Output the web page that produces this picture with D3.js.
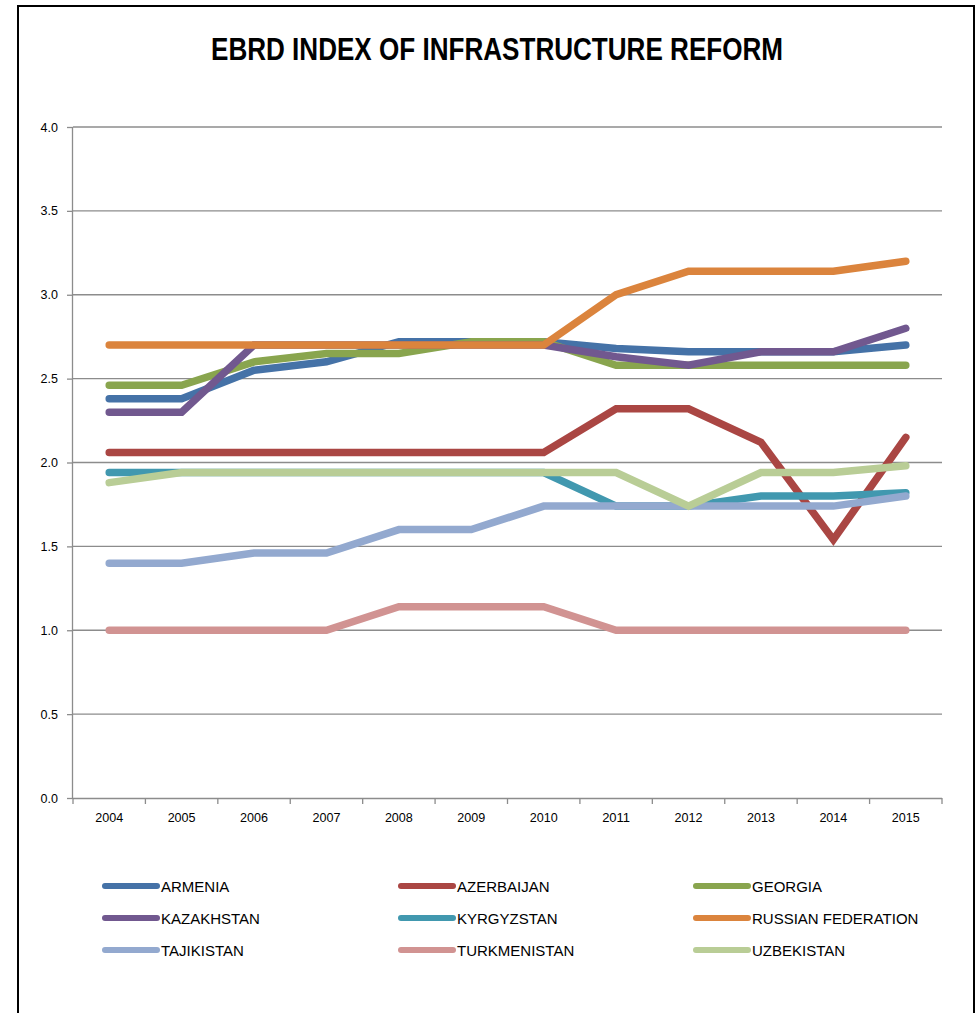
<!DOCTYPE html>
<html><head><meta charset="utf-8">
<script src="https://cdn.jsdelivr.net/npm/d3@7"></script>
<style>body{margin:0;background:#fff}</style>
</head><body>
<svg id="c" width="979" height="1013"></svg>
<script>
const years = ["2004","2005","2006","2007","2008","2009","2010","2011","2012","2013","2014","2015"];
const yTicks = [0,0.5,1,1.5,2,2.5,3,3.5,4];
const seriesNames = ["ARMENIA","AZERBAIJAN","GEORGIA","KAZAKHSTAN","KYRGYZSTAN","RUSSIAN FEDERATION","TAJIKISTAN","TURKMENISTAN","UZBEKISTAN"];
const colors = ["#4572A7","#AA4643","#89A54E","#71588F","#4198AF","#DB843D","#93A9CF","#D19392","#B9CD96"];
const armenia      = [2.38,2.38,2.55,2.60,2.72,2.72,2.72,2.68,2.66,2.66,2.66,2.70];
const azerbaijan   = [2.06,2.06,2.06,2.06,2.06,2.06,2.06,2.32,2.32,2.12,1.54,2.15];
const georgia      = [2.46,2.46,2.60,2.65,2.65,2.72,2.72,2.58,2.58,2.58,2.58,2.58];
const kazakhstan   = [2.30,2.30,2.70,2.70,2.70,2.70,2.70,2.63,2.58,2.66,2.66,2.80];
const kyrgyzstan   = [1.94,1.94,1.94,1.94,1.94,1.94,1.94,1.74,1.74,1.80,1.80,1.82];
const russia       = [2.70,2.70,2.70,2.70,2.70,2.70,2.70,3.00,3.14,3.14,3.14,3.20];
const tajikistan   = [1.40,1.40,1.46,1.46,1.60,1.60,1.74,1.74,1.74,1.74,1.74,1.80];
const turkmenistan = [1.00,1.00,1.00,1.00,1.14,1.14,1.14,1.00,1.00,1.00,1.00,1.00];
const uzbekistan   = [1.88,1.94,1.94,1.94,1.94,1.94,1.94,1.94,1.74,1.94,1.94,1.98];
const seriesValues = [armenia,azerbaijan,georgia,kazakhstan,kyrgyzstan,russia,tajikistan,turkmenistan,uzbekistan];

const svg = d3.select("#c");
svg.append("rect").attr("x",18).attr("y",6).attr("width",956).attr("height",1020)
  .attr("fill","#fff").attr("stroke","#000").attr("stroke-width",2);

svg.append("text").attr("x",497).attr("y",60).attr("text-anchor","middle")
  .attr("font-family","Liberation Sans, Arial, sans-serif").attr("font-weight","bold")
  .attr("font-size",31).attr("textLength",572).attr("lengthAdjust","spacingAndGlyphs")
  .text("EBRD INDEX OF INFRASTRUCTURE REFORM");

const L=73, R=942, T=127, B=798;
const x = d3.scaleBand().domain(years).range([L,R]);
const y = d3.scaleLinear().domain([0,4]).range([B,T]);

svg.append("g").selectAll("line").data(yTicks.filter(d=>d>0)).join("line")
  .attr("x1",L).attr("x2",R).attr("y1",d=>y(d)).attr("y2",d=>y(d))
  .attr("stroke","#8c8c8c").attr("stroke-width",1.3);

const ya = svg.append("g").attr("transform",`translate(${L},0)`)
  .call(d3.axisLeft(y).tickValues(yTicks).tickFormat(d3.format(".1f")).tickSize(6).tickPadding(9));
ya.select(".domain").attr("stroke","#8c8c8c").attr("stroke-width",1.3).attr("d",`M-0.5,${T}V${B}`);
ya.selectAll(".tick line").attr("stroke","#8c8c8c").attr("stroke-width",1.3);
ya.selectAll("text").attr("font-family","Liberation Sans, Arial, sans-serif").attr("font-size",12.5).attr("fill","#000");

const xa = svg.append("g").attr("transform",`translate(0,${B})`)
  .call(d3.axisBottom(x).tickSize(0).tickPadding(15));
xa.select(".domain").attr("stroke","#8c8c8c").attr("stroke-width",1.3).attr("d",`M${L},0.5H${R}`);
xa.selectAll("text").attr("font-family","Liberation Sans, Arial, sans-serif").attr("font-size",13).attr("fill","#000")
  .attr("textLength",28).attr("lengthAdjust","spacingAndGlyphs");
const bounds = years.map(d=>x(d)).concat([R]);
svg.append("g").selectAll("line").data(bounds).join("line")
  .attr("x1",d=>d).attr("x2",d=>d).attr("y1",B).attr("y2",B+6)
  .attr("stroke","#8c8c8c").attr("stroke-width",1.3);

const line = d3.line().x((d,i)=>x(years[i])+x.bandwidth()/2).y(d=>y(d));
svg.append("g").selectAll("path").data(seriesValues).join("path")
  .attr("d",d=>line(d)).attr("fill","none").attr("stroke",(d,i)=>colors[i])
  .attr("stroke-width",7.5).attr("stroke-linecap","round").attr("stroke-linejoin","miter");

const colX=[103,399,694], rowY=[886,918,950];
const lg = svg.append("g").selectAll("g").data(seriesNames).join("g")
  .attr("transform",(d,i)=>`translate(${colX[i%3]},${rowY[Math.floor(i/3)]})`);
lg.append("line").attr("x1",2).attr("x2",54).attr("y1",0).attr("y2",0)
  .attr("stroke",(d,i)=>colors[i]).attr("stroke-width",6).attr("stroke-linecap","round");
lg.append("text").attr("x",58).attr("y",5.5)
  .attr("font-family","Liberation Sans, Arial, sans-serif").attr("font-size",15)
  .text(d=>d);
</script>
</body></html>
